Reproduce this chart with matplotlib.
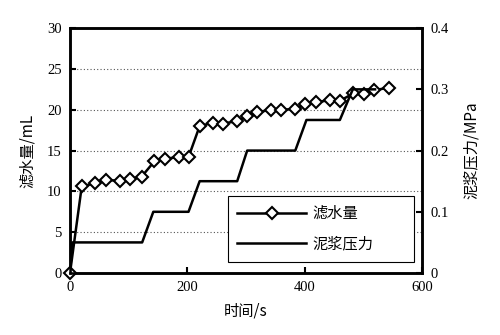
import matplotlib
matplotlib.use("Agg")
import matplotlib.pyplot as plt
from matplotlib.lines import Line2D

plt.rcParams['font.family'] = ['Liberation Serif', 'Noto Sans CJK SC']

# 滤水量 (mL)
t_water = [0, 20, 43, 62, 85, 102, 122, 144, 162, 185, 202, 221, 243, 260, 284,
           302, 319, 343, 360, 384, 401, 419, 443, 460, 483, 501, 519, 543]
water = [0, 10.6, 11.0, 11.4, 11.3, 11.5, 11.8, 13.7, 14.0, 14.2, 14.2, 18.0, 18.4,
         18.3, 18.6, 19.2, 19.7, 20.0, 20.0, 20.1, 20.7, 20.9, 21.2, 21.1, 22.0,
         21.9, 22.4, 22.7]

# 泥浆压力 (MPa)
t_press = [0, 4, 123, 142, 202, 221, 285, 302, 384, 403, 460, 482, 520]
press = [0, 0.05, 0.05, 0.10, 0.10, 0.15, 0.15, 0.20, 0.20, 0.25, 0.25, 0.30, 0.30]

x_ticks = [0, 200, 400, 600]
y_ticks = [0, 5, 10, 15, 20, 25, 30]
y2_ticks = [0, 0.1, 0.2, 0.3, 0.4]
y2_labels = ['0', '0.1', '0.2', '0.3', '0.4']

fig = plt.figure(figsize=(5, 3.35), dpi=100)
ax = fig.add_axes([0.14, 0.185, 0.704, 0.731])
ax2 = ax.twinx()

ax.plot(t_water, water, color='black', linewidth=1.8, marker='D', markersize=6,
        markerfacecolor='white', markeredgecolor='black', markeredgewidth=1.5,
        zorder=5, clip_on=False)
ax2.plot(t_press, press, color='black', linewidth=1.8)

ax.set_xlim(0, 600)
ax.set_ylim(0, 30)
ax2.set_ylim(0, 0.4)
ax.set_xticks(x_ticks)
ax.set_yticks(y_ticks)
ax2.set_yticks(y2_ticks)
ax2.set_yticklabels(y2_labels)

ax.yaxis.grid(True, linestyle=(0, (1, 2)), color='#555555', linewidth=0.8)
ax.set_axisbelow(True)

for a in (ax, ax2):
    for s in a.spines.values():
        s.set_linewidth(1.8)
    a.tick_params(direction='in', length=4, width=1.5, labelsize=10.5, pad=6)

ax.set_xlabel('时间/s', fontsize=11, family=['Noto Sans CJK SC'], labelpad=6)
ax.set_ylabel('滤水量/mL', fontsize=11, family=['Noto Sans CJK SC'], labelpad=8)
ax2.set_ylabel('泥浆压力/MPa', fontsize=11, family=['Noto Sans CJK SC'], labelpad=10)

handles = [
    Line2D([], [], color='black', linewidth=1.8, marker='D', markersize=6,
           markerfacecolor='white', markeredgecolor='black', markeredgewidth=1.5),
    Line2D([], [], color='black', linewidth=1.8),
]
leg = ax2.legend(handles, ['滤水量', '泥浆压力'], loc='lower left',
                 bbox_to_anchor=(0.449, 0.045, 0.528, 0.27), mode='expand',
                 fancybox=False, framealpha=1, edgecolor='black',
                 handlelength=4.5, handletextpad=0.4, borderpad=0.6,
                 labelspacing=0.9, borderaxespad=0,
                 prop={'family': 'Noto Sans CJK SC', 'size': 11})
leg.get_frame().set_linewidth(0.8)

fig.savefig('out.png', dpi=100)
